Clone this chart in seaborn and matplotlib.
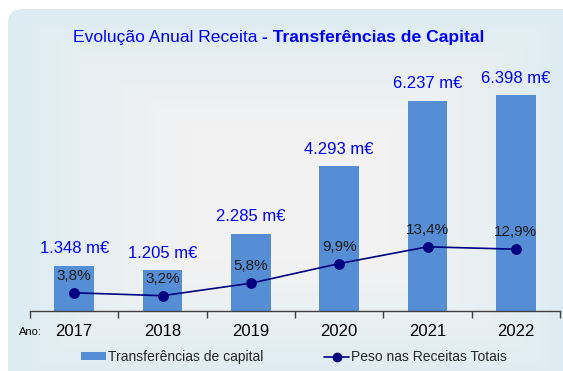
import numpy as np
import pandas as pd
import matplotlib
matplotlib.use("Agg")
import matplotlib.pyplot as plt
from matplotlib.patches import FancyBboxPatch, Patch
from matplotlib.lines import Line2D
import seaborn as sns

# Data
years = ["2017", "2018", "2019", "2020", "2021", "2022"]
transferencias = [1348, 1205, 2285, 4293, 6237, 6398]   # milhares de euros
peso_pct = [3.8, 3.2, 5.8, 9.9, 13.4, 12.9]              # % das receitas totais

sns.set_theme(style="white")
plt.rcParams["font.family"] = ["Liberation Sans", "DejaVu Sans"]

W, H = 563, 371
fig = plt.figure(figsize=(W / 100, H / 100), dpi=100, facecolor="white")

# Background panel: rounded box with a soft gradient (grey centre, light blue rim)
bg = fig.add_axes([0, 0, 1, 1], zorder=-10)
bg.set_xlim(0, W)
bg.set_ylim(H, 0)
bg.axis("off")
yy, xx = np.mgrid[0:H, 0:W]
cx, cy, hx, hy = 290.0, 195.0, 285.0, 190.0
t = np.clip(np.maximum(np.abs(xx - cx) / hx, np.abs(yy - cy) / hy), 0, 1)
t = np.clip((t - 0.35) / 0.65, 0, 1) ** 1.2
inner = np.array([242, 242, 242]) / 255
outer = np.array([219, 236, 243]) / 255
img = inner[None, None, :] + (outer - inner)[None, None, :] * t[..., None]
im = bg.imshow(img, extent=(0, W, H, 0), interpolation="bilinear")
panel = FancyBboxPatch((8, 9), 620, 420, boxstyle="round,pad=0,rounding_size=14",
                       transform=bg.transData, facecolor="none", edgecolor="none")
bg.add_patch(panel)
im.set_clip_path(panel)

# Main axes
ax = fig.add_axes([30 / W, 1 - 311 / H, 530 / W, (311 - 60) / H])
ax.patch.set_alpha(0)
df = pd.DataFrame({"ano": years, "valor": transferencias, "peso": peso_pct})

bar_color = "#558ed5"
sns.barplot(data=df, x="ano", y="valor", color=bar_color, saturation=1,
            width=0.45, ax=ax, edgecolor="none")
ax.set_ylim(0, 7450)
ax.set_xlim(-0.5, 5.5)

for i, v in enumerate(transferencias):
    lbl = f"{v:,}".replace(",", ".") + " m€"
    ax.annotate(lbl, (i, v), xytext=(0, 7), textcoords="offset points",
                ha="center", va="bottom", fontsize=12, color="#0000ff")

# Secondary axis for the share line
ax2 = ax.twinx()
ax2.patch.set_alpha(0)
df["pos"] = np.arange(len(years))
sns.lineplot(data=df, x="pos", y="peso", ax=ax2, color="#000080", marker="o",
             markersize=7, linewidth=1.2, markeredgecolor="#000080")
ax2.set_ylim(0, 52.4)
ax2.set_xlim(-0.5, 5.5)
for i, p in enumerate(peso_pct):
    lbl = f"{p:.1f}".replace(".", ",") + "%"
    ax2.annotate(lbl, (i, p), xytext=(0, 7), textcoords="offset points",
                 ha="center", va="bottom", fontsize=11, color="#1a1a1a")

for a in (ax, ax2):
    for s in ("top", "right", "left"):
        a.spines[s].set_visible(False)
    a.set_ylabel("")
    a.set_xlabel("")
    a.set_yticks([])
ax2.spines["bottom"].set_visible(False)
ax2.set_xticks([])

ax.spines["bottom"].set_color("#404040")
ax.spines["bottom"].set_linewidth(1.0)
ax.set_xticks(range(len(years)))
ax.set_xticklabels(years, fontsize=12, color="black")
ax.tick_params(axis="x", which="major", length=0, pad=9)
ax.set_xticks(np.arange(-0.5, 6.0, 1.0), minor=True)
ax.tick_params(axis="x", which="minor", length=5, width=1.0, color="#404040",
               direction="out", bottom=True)

fig.text(19 / W, 1 - 332 / H, "Ano:", fontsize=8, color="black",
         ha="left", va="center")

# Title: regular part followed by bold part
t1 = fig.text(73 / W, 1 - 42 / H, "Evolução Anual Receita ", fontsize=12.6,
              color="#0000ff", ha="left", va="baseline")
ax.annotate("- Transferências de Capital", xy=(1, 0), xycoords=t1,
            ha="left", va="bottom", fontsize=12.6, fontweight="bold",
            color="#0000ff", annotation_clip=False)

# Legend
handles = [
    Patch(facecolor=bar_color, edgecolor="none", label="Transferências de capital"),
    Line2D([0], [0], color="#000080", marker="o", markersize=6, linewidth=1.2,
           label="Peso nas Receitas Totais"),
]
fig.legend(handles=handles, loc="center", bbox_to_anchor=(294 / W, 1 - 357 / H),
           ncol=2, frameon=False, fontsize=10, handlelength=1.8,
           handleheight=0.45, handletextpad=0.15, columnspacing=4.4)

fig.savefig("out.png", dpi=100, facecolor="white")
